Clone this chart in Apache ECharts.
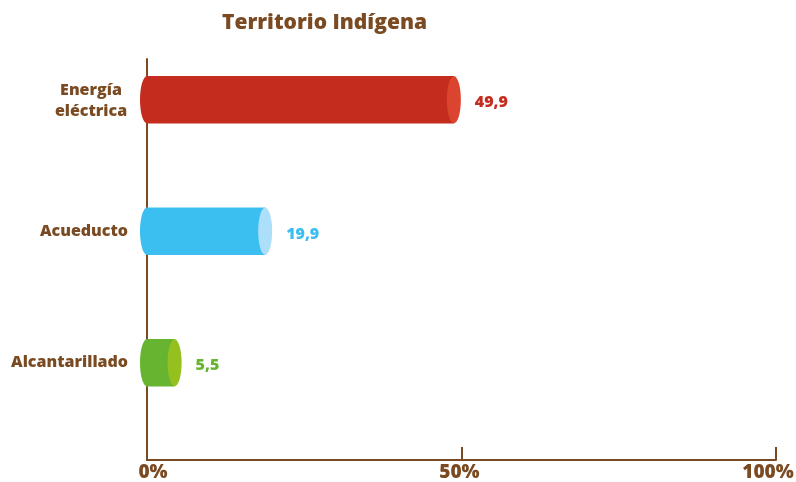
<!DOCTYPE html>
<html><head><meta charset="utf-8">
<script src="https://cdn.jsdelivr.net/npm/echarts@6/dist/echarts.min.js"></script>
<style>html,body{margin:0;padding:0;background:#fff}#c{width:796px;height:482px}</style>
</head><body><div id="c"></div>
<script>
const categories = ['Energía\neléctrica', 'Acueducto', 'Alcantarillado'];
const values = [49.9, 19.9, 5.5];
const bodyColors = ['#C42D1E', '#3BBFF0', '#66B42F'];
const capColors = ['#DB4530', '#AEDFFA', '#95C11F'];
const tickLabels = {0: '0%', 50: '50%', 100: '100%'};
const title = 'Territorio Indígena';

const brown = '#7A4B22';
const font = '"Open Sans", "Noto Sans", sans-serif';
const W = 800;
const chart = echarts.init(document.getElementById('c'));
const data = values.map((v, i) => [v, i]);
const tickRich = {color: brown, fontFamily: font, fontWeight: W, fontSize: 19};

chart.setOption({
  animation: false,
  title: {text: title, left: 217, top: 8, textStyle: {color: brown, fontFamily: font, fontWeight: W, fontSize: 21}},
  grid: [
    {left: 147, right: 20, top: 34, bottom: 53.5, outerBoundsMode: 'none'},
    {left: 147, right: 20, top: 59, bottom: 22, outerBoundsMode: 'none'}
  ],
  xAxis: [
    {gridIndex: 0, type: 'value', min: 0, max: 100, show: false, splitLine: {show: false}},
    {gridIndex: 1, type: 'value', min: 0, max: 100, interval: 50,
     axisLine: {show: true, lineStyle: {color: brown, width: 2}},
     axisTick: {show: true, inside: true, length: 13, lineStyle: {color: brown, width: 2}},
     splitLine: {show: false},
     axisLabel: {margin: 3, color: brown, fontFamily: font, fontWeight: W, fontSize: 19,
       formatter: v => v === 0 ? '{l|' + tickLabels[v] + '}' : (v === 100 ? '{r|' + tickLabels[v] + '}' : '{m|' + tickLabels[v] + '}'),
       rich: {l: Object.assign({padding: [0, 0, 0, 12]}, tickRich),
              r: Object.assign({padding: [0, 16, 0, 0]}, tickRich),
              m: Object.assign({padding: [0, 4, 0, 0]}, tickRich)}}}
  ],
  yAxis: [
    {gridIndex: 0, type: 'category', data: categories, inverse: true,
     axisLine: {show: false}, axisTick: {show: false}, splitLine: {show: false},
     axisLabel: {margin: 19, color: brown, fontFamily: font, fontWeight: W, fontSize: 16, lineHeight: 21,
       formatter: v => v.indexOf('\n') >= 0 ? v.split('\n').map(s => '{c|' + s + '}').join('\n') : v,
       rich: {c: {width: 74, align: 'center', color: brown, fontFamily: font, fontWeight: W, fontSize: 16, lineHeight: 21, padding: [2, 0, 0, 0]}}}},
    {gridIndex: 1, type: 'value', min: 0, max: 1,
     axisLine: {show: true, lineStyle: {color: brown, width: 2}},
     axisTick: {show: false}, axisLabel: {show: false}, splitLine: {show: false}}
  ],
  series: [{
    type: 'custom', xAxisIndex: 0, yAxisIndex: 0, data: data,
    encode: {x: 0, y: 1},
    renderItem: (params, api) => {
      const i = api.value(1);
      const s = api.coord([0, i]);
      const e = api.coord([api.value(0), i]);
      const cy = s[1];
      const h = api.size([0, 1])[1] * 0.36;
      const r = h / 2, rx = 7;
      const sc = rx / r;
      return {type: 'group', children: [
        {type: 'circle', x: s[0], y: cy, scaleX: sc, shape: {cx: 0, cy: 0, r: r}, style: {fill: bodyColors[i]}},
        {type: 'rect', shape: {x: s[0], y: cy - r, width: e[0] - rx - s[0], height: h}, style: {fill: bodyColors[i]}},
        {type: 'circle', x: e[0] - rx, y: cy, scaleX: sc, shape: {cx: 0, cy: 0, r: r}, style: {fill: capColors[i]}},
        {type: 'text', x: e[0] + 14, y: cy + 3, style: {text: String(api.value(0)).replace('.', ','), fill: bodyColors[i],
          font: W + ' 16px ' + font, verticalAlign: 'middle', align: 'left'}}
      ]};
    }
  }]
});
</script></body></html>
